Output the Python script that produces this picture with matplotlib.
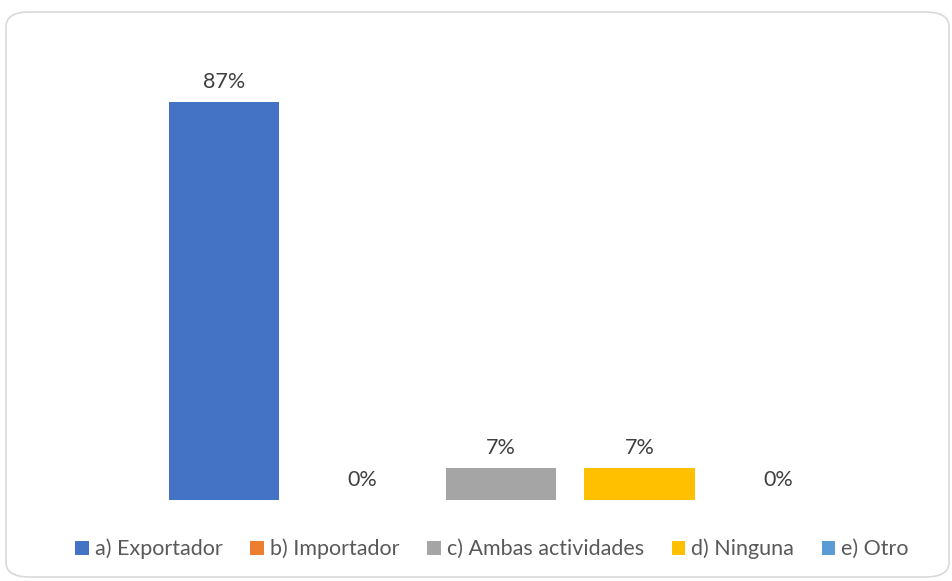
import numpy as np
import matplotlib.pyplot as plt
from matplotlib.patches import FancyBboxPatch, Patch

# === Datos ===
categorias = ["a) Exportador", "b) Importador", "c) Ambas actividades", "d) Ninguna", "e) Otro"]
valores = [87, 0, 7, 7, 0]
colores = ["#4472C4", "#ED7D31", "#A5A5A5", "#FFC000", "#5B9BD5"]

plt.rcParams['font.family'] = ['Lato', 'DejaVu Sans']

fig = plt.figure(figsize=(9.53, 5.81), dpi=100)

# marco redondeado del grafico
marco = FancyBboxPatch((6 / 953, 4 / 581), 943 / 953, 565 / 581,
                       boxstyle="round,pad=0,rounding_size=0.025",
                       transform=fig.transFigure, facecolor="white",
                       edgecolor="#D9D9D9", linewidth=1.2, zorder=-5)
fig.patches.append(marco)

ax = fig.add_axes([154.75 / 953, 81 / 581, 692.5 / 953, 458 / 581])
ax.set_facecolor("none")

x = np.arange(len(categorias))
barras = ax.bar(x, valores, width=0.795, color=colores)

for xi, v in zip(x, valores):
    ax.annotate(f"{v}%", (xi, v), xytext=(0, 7), textcoords="offset points",
                ha="center", va="bottom", fontsize=15.5, color="#404040")

ax.set_xlim(-0.5, len(categorias) - 0.5)
ax.set_ylim(0, 100)
ax.axis("off")

handles = [Patch(facecolor=c, edgecolor="none") for c in colores]
fig.legend(handles, categorias, loc="center", bbox_to_anchor=(492 / 953, 32 / 581),
           ncol=5, frameon=False, fontsize=15.5, labelcolor="#595959",
           handlelength=0.62, handleheight=0.62, handletextpad=0.28, columnspacing=1.3)

fig.savefig("out.png", dpi=100)
